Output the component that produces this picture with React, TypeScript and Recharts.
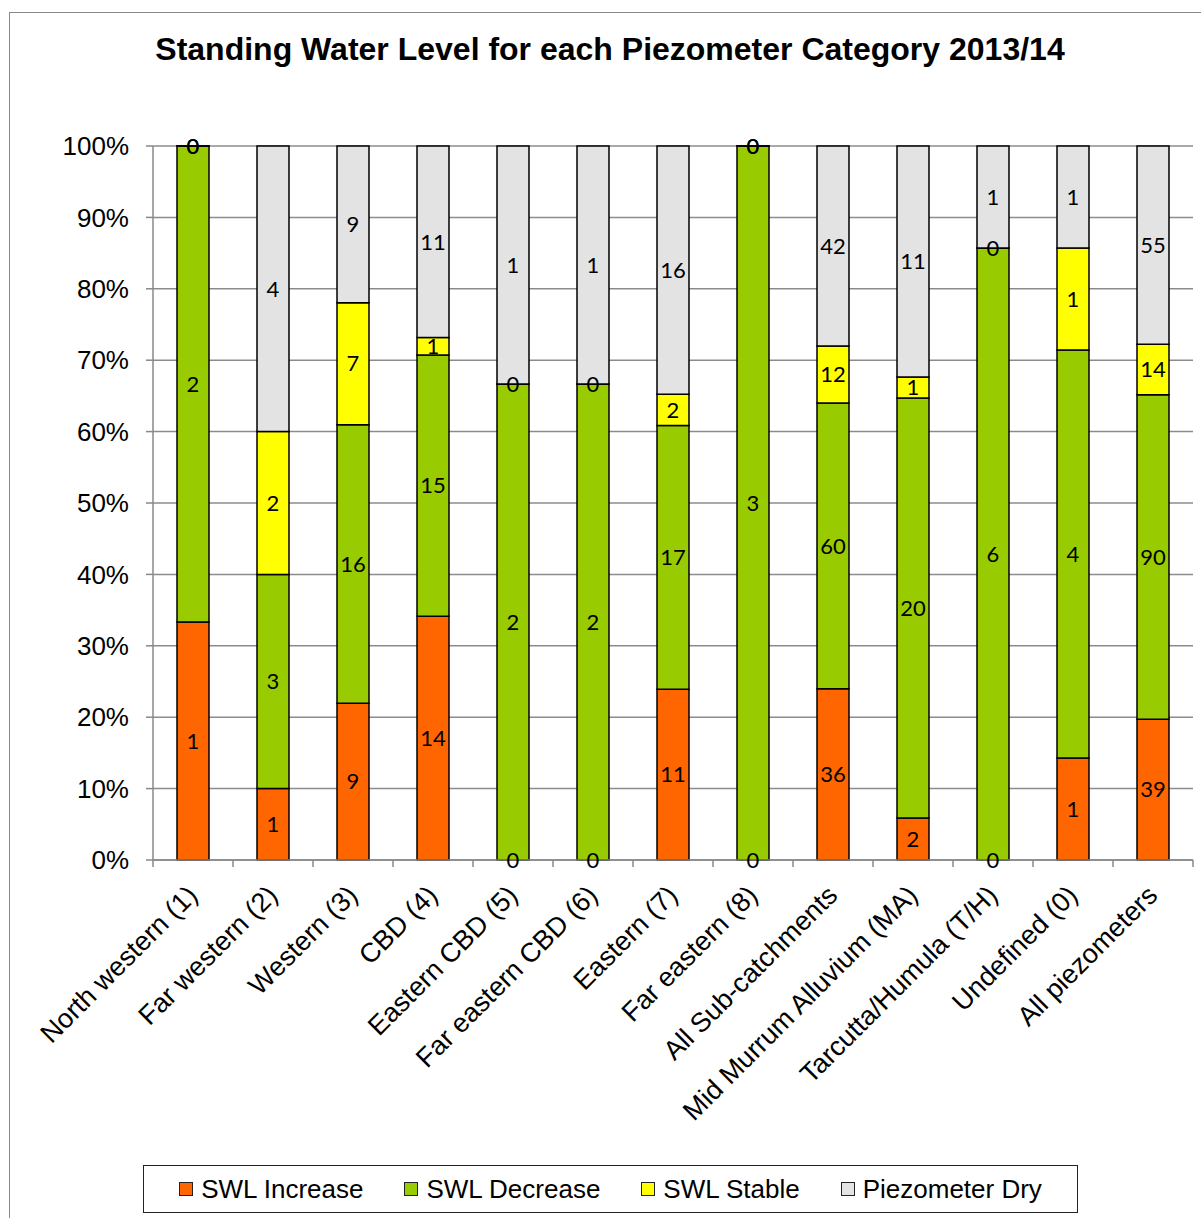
import React from 'react';
import {
  BarChart,
  Bar,
  XAxis,
  YAxis,
  CartesianGrid,
  LabelList,
} from 'recharts';

const categories = [
  'North western (1)',
  'Far western (2)',
  'Western (3)',
  'CBD (4)',
  'Eastern CBD (5)',
  'Far eastern CBD (6)',
  'Eastern (7)',
  'Far eastern (8)',
  'All Sub-catchments',
  'Mid Murrum Alluvium (MA)',
  'Tarcutta/Humula (T/H)',
  'Undefined (0)',
  'All piezometers',
];

const swlIncrease = [1, 1, 9, 14, 0, 0, 11, 0, 36, 2, 0, 1, 39];
const swlDecrease = [2, 3, 16, 15, 2, 2, 17, 3, 60, 20, 6, 4, 90];
const swlStable = [0, 2, 7, 1, 0, 0, 2, 0, 12, 1, 0, 1, 14];
const piezoDry = [0, 4, 9, 11, 1, 1, 16, 0, 42, 11, 1, 1, 55];

const yTicks = [0, 0.1, 0.2, 0.3, 0.4, 0.5, 0.6, 0.7, 0.8, 0.9, 1];

const series = [
  { key: 'inc', name: 'SWL Increase', color: '#ff6600' },
  { key: 'dec', name: 'SWL Decrease', color: '#99cc00' },
  { key: 'stable', name: 'SWL Stable', color: '#ffff00' },
  { key: 'dry', name: 'Piezometer Dry', color: '#e3e3e3' },
];

const data = categories.map((name, i) => ({
  name,
  inc: swlIncrease[i],
  dec: swlDecrease[i],
  stable: swlStable[i],
  dry: piezoDry[i],
}));

const W = 1201;
const H = 1218;
const LEFT = 153;
const RIGHT = 8;
const TOP = 146;
const PLOT_BOTTOM = 860;
const X_AXIS_H = 280;
const BAND = (W - LEFT - RIGHT) / categories.length;

const axisFont = '"Liberation Sans", Arial, sans-serif';
const labelFont = 'Lato, "Open Sans", sans-serif';

const XTick = (props: any) => {
  const { x, y, payload, index } = props;
  const half = BAND / 2;
  const ax = x + 6;
  const ay = y + 37;
  return (
    <g>
      <line x1={x - half} y1={y} x2={x - half} y2={y + 7} stroke="#888" strokeWidth={1.5} />
      {index === categories.length - 1 && (
        <line x1={x + half} y1={y} x2={x + half} y2={y + 7} stroke="#888" strokeWidth={1.5} />
      )}
      <text
        x={ax}
        y={ay}
        transform={`rotate(-45, ${ax}, ${ay})`}
        textAnchor="end"
        fontSize={27}
        fontFamily={axisFont}
        fill="#000"
      >
        {payload.value}
      </text>
    </g>
  );
};

export default function App() {
  return (
    <div style={{ position: 'relative', width: W, height: H, background: '#fff', overflow: 'hidden' }}>
      <style>{`body{margin:0}`}</style>
      <div
        style={{
          position: 'absolute',
          left: 9,
          top: 12,
          width: W,
          height: H,
          borderLeft: '1.5px solid #8a8a8a',
          borderTop: '1.5px solid #8a8a8a',
        }}
      />
      <div
        style={{
          position: 'absolute',
          top: 31,
          left: 0,
          width: 1220,
          textAlign: 'center',
          fontFamily: axisFont,
          fontWeight: 'bold',
          fontSize: 32,
          color: '#000',
          whiteSpace: 'nowrap',
        }}
      >
        Standing Water Level for each Piezometer Category 2013/14
      </div>
      <div style={{ position: 'absolute', left: 0, top: 0 }}>
        <BarChart
          width={W}
          height={H}
          data={data}
          stackOffset="expand"
          barSize={32}
          margin={{ top: TOP, right: RIGHT, left: 0, bottom: H - PLOT_BOTTOM - X_AXIS_H }}
        >
          <CartesianGrid vertical={false} stroke="#8c8c8c" strokeWidth={1.5} />
          <YAxis
            width={LEFT}
            domain={[0, 1]}
            ticks={yTicks}
            tickFormatter={(v: number) => `${Math.round(v * 100)}%`}
            tickSize={7}
            tickMargin={17}
            axisLine={{ stroke: '#888', strokeWidth: 1.5 }}
            tickLine={{ stroke: '#888', strokeWidth: 1.5 }}
            tick={{ fill: '#000', fontSize: 26, fontFamily: axisFont }}
          />
          <XAxis
            dataKey="name"
            height={X_AXIS_H}
            interval={0}
            tickLine={false}
            tickSize={0}
            tickMargin={0}
            axisLine={{ stroke: '#888', strokeWidth: 1.5 }}
            tick={<XTick />}
          />
          {series.map((s) => (
            <Bar
              key={s.key}
              dataKey={s.key}
              name={s.name}
              stackId="a"
              fill={s.color}
              stroke="#000"
              strokeWidth={1.5}
              minPointSize={0.01}
              isAnimationActive={false}
            >
              <LabelList
                dataKey={s.key}
                position="center"
                fill="#000"
                fontSize={22}
                fontFamily={labelFont}
              />
            </Bar>
          ))}
        </BarChart>
      </div>
      <div
        style={{
          position: 'absolute',
          left: 143,
          top: 1165,
          width: 935,
          height: 48,
          boxSizing: 'border-box',
          border: '1.5px solid #222',
          display: 'flex',
          alignItems: 'center',
          justifyContent: 'center',
          gap: 41,
          fontFamily: axisFont,
          fontSize: 26,
          color: '#000',
        }}
      >
        {series.map((s) => (
          <div key={s.key} style={{ display: 'flex', alignItems: 'center', gap: 8 }}>
            <span
              style={{
                display: 'inline-block',
                width: 12,
                height: 12,
                background: s.color,
                border: '1.5px solid #222',
              }}
            />
            <span>{s.name}</span>
          </div>
        ))}
      </div>
    </div>
  );
}
